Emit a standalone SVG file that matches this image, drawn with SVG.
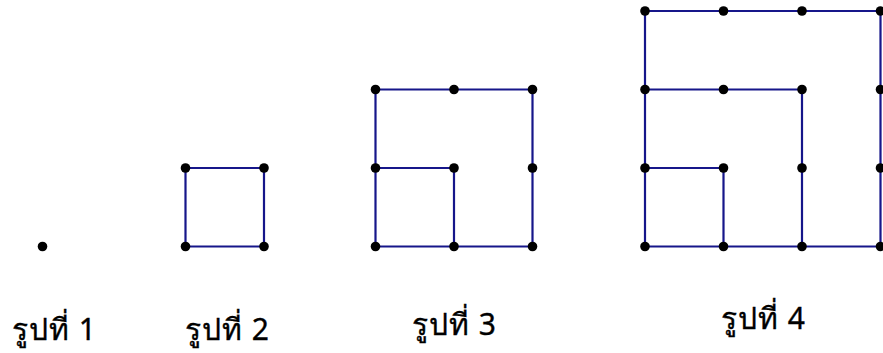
<svg xmlns="http://www.w3.org/2000/svg" width="883" height="353" viewBox="0 0 883 353">
<style>
.e{stroke:#16168a;stroke-width:2.2;fill:none;stroke-linecap:round}
.d{fill:#000}
.t{font-family:"Noto Sans","DejaVu Sans",sans-serif;font-size:30px;letter-spacing:1px;fill:#000;stroke:#000;stroke-width:0.35}
</style>
<rect width="883" height="353" fill="#fff"/>
<g id="fig1">
<circle class="d" cx="42.5" cy="246.5" r="4.8"/>
<text class="t" x="12" y="340">รูปที่ 1</text>
</g>
<g id="fig2">
<g class="e"><path d="M185.5 168H264V246.5H185.5Z"/></g>
<g class="d"><circle cx="185.5" cy="168" r="4.8"/><circle cx="264" cy="168" r="4.8"/><circle cx="185.5" cy="246.5" r="4.8"/><circle cx="264" cy="246.5" r="4.8"/></g>
<text class="t" x="185" y="340">รูปที่ 2</text>
</g>
<g id="fig3">
<g class="e"><path d="M375.5 89.5H532.5V246.5H375.5Z"/><path d="M375.5 168H454V246.5"/></g>
<g class="d"><circle cx="375.5" cy="89.5" r="4.8"/><circle cx="454" cy="89.5" r="4.8"/><circle cx="532.5" cy="89.5" r="4.8"/><circle cx="375.5" cy="168" r="4.8"/><circle cx="454" cy="168" r="4.8"/><circle cx="532.5" cy="168" r="4.8"/><circle cx="375.5" cy="246.5" r="4.8"/><circle cx="454" cy="246.5" r="4.8"/><circle cx="532.5" cy="246.5" r="4.8"/></g>
<text class="t" x="412" y="335">รูปที่ 3</text>
</g>
<g id="fig4">
<g class="e"><path d="M645 11H880.5V246.5H645Z"/><path d="M645 89.5H802V246.5"/><path d="M645 168H723.5V246.5"/></g>
<g class="d"><circle cx="645" cy="11" r="4.8"/><circle cx="723.5" cy="11" r="4.8"/><circle cx="802" cy="11" r="4.8"/><circle cx="880.5" cy="11" r="4.8"/><circle cx="645" cy="89.5" r="4.8"/><circle cx="723.5" cy="89.5" r="4.8"/><circle cx="802" cy="89.5" r="4.8"/><circle cx="880.5" cy="89.5" r="4.8"/><circle cx="645" cy="168" r="4.8"/><circle cx="723.5" cy="168" r="4.8"/><circle cx="802" cy="168" r="4.8"/><circle cx="880.5" cy="168" r="4.8"/><circle cx="645" cy="246.5" r="4.8"/><circle cx="723.5" cy="246.5" r="4.8"/><circle cx="802" cy="246.5" r="4.8"/><circle cx="880.5" cy="246.5" r="4.8"/></g>
<text class="t" x="721" y="329">รูปที่ 4</text>
</g>
</svg>
